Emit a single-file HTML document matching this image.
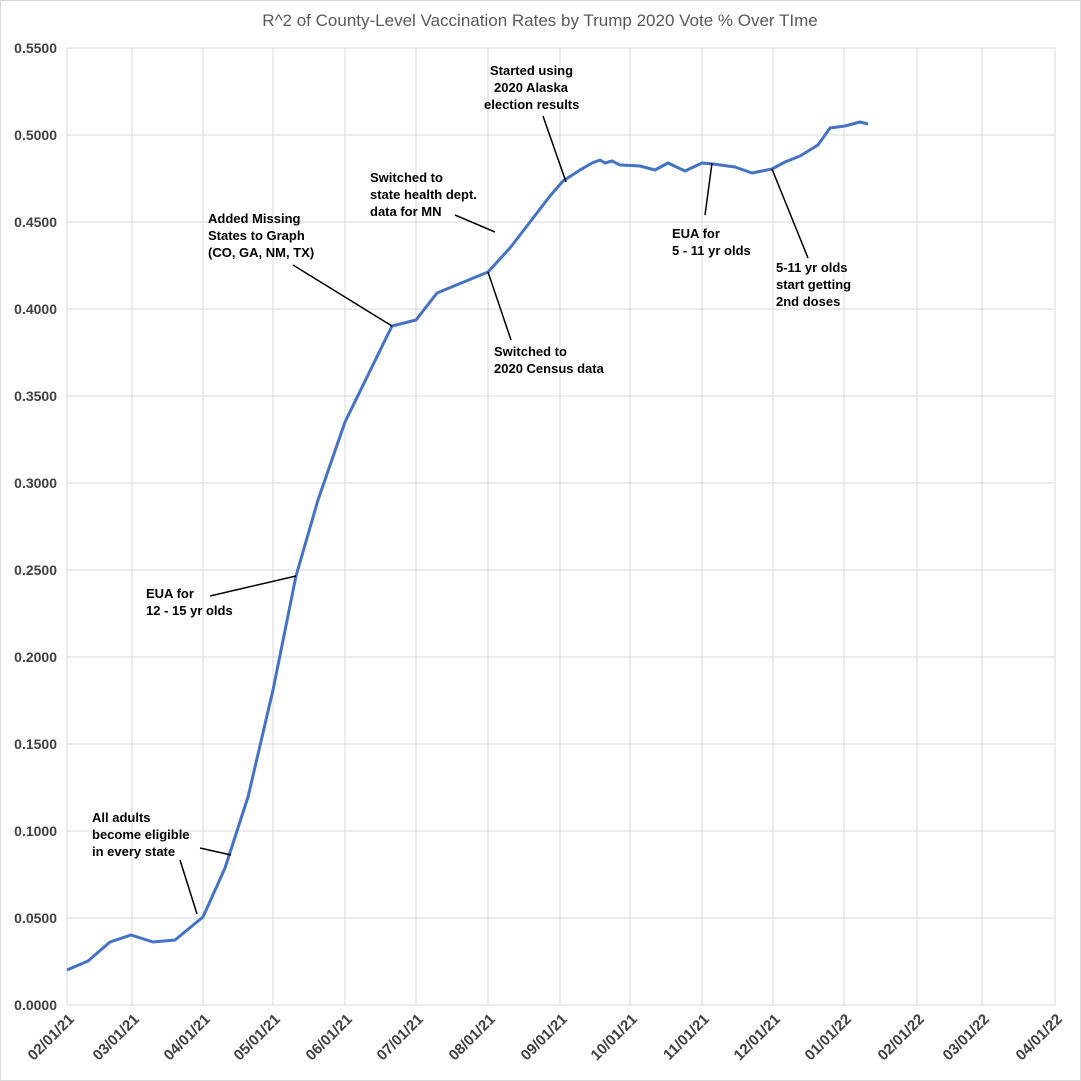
<!DOCTYPE html>
<html><head><meta charset="utf-8"><style>
body{margin:0;background:#fff}
svg{display:block}
text{font-family:"Liberation Sans",sans-serif}
.yl{font-size:14px;font-weight:bold;fill:#404040;text-anchor:end}
.xl{font-size:15px;font-weight:bold;fill:#404040;text-anchor:end}
.an{font-size:13px;font-weight:bold;fill:#000}
</style></head><body>
<svg width="1081" height="1081" viewBox="0 0 1081 1081">
<rect x="0.5" y="0.5" width="1080" height="1080" fill="#fff" stroke="#d9d9d9"/>
<text x="540" y="26" text-anchor="middle" font-size="17" fill="#595959">R^2 of County-Level Vaccination Rates by Trump 2020 Vote % Over TIme</text>
<g stroke="#d9d9d9" stroke-width="1">
<line x1="67" y1="48" x2="1055" y2="48"/><line x1="67" y1="135" x2="1055" y2="135"/><line x1="67" y1="222" x2="1055" y2="222"/><line x1="67" y1="309" x2="1055" y2="309"/><line x1="67" y1="396" x2="1055" y2="396"/><line x1="67" y1="483" x2="1055" y2="483"/><line x1="67" y1="570" x2="1055" y2="570"/><line x1="67" y1="657" x2="1055" y2="657"/><line x1="67" y1="744" x2="1055" y2="744"/><line x1="67" y1="831" x2="1055" y2="831"/><line x1="67" y1="918" x2="1055" y2="918"/><line x1="67" y1="1005" x2="1055" y2="1005"/>
<line x1="67" y1="48" x2="67" y2="1005"/><line x1="132" y1="48" x2="132" y2="1005"/><line x1="203" y1="48" x2="203" y2="1005"/><line x1="273" y1="48" x2="273" y2="1005"/><line x1="345" y1="48" x2="345" y2="1005"/><line x1="416" y1="48" x2="416" y2="1005"/><line x1="488" y1="48" x2="488" y2="1005"/><line x1="560" y1="48" x2="560" y2="1005"/><line x1="630" y1="48" x2="630" y2="1005"/><line x1="702" y1="48" x2="702" y2="1005"/><line x1="773" y1="48" x2="773" y2="1005"/><line x1="844" y1="48" x2="844" y2="1005"/><line x1="917" y1="48" x2="917" y2="1005"/><line x1="982" y1="48" x2="982" y2="1005"/><line x1="1055" y1="48" x2="1055" y2="1005"/>
</g>
<g class="yl">
<text x="57" y="53">0.5500</text><text x="57" y="140">0.5000</text><text x="57" y="227">0.4500</text><text x="57" y="314">0.4000</text><text x="57" y="401">0.3500</text><text x="57" y="488">0.3000</text><text x="57" y="575">0.2500</text><text x="57" y="662">0.2000</text><text x="57" y="749">0.1500</text><text x="57" y="836">0.1000</text><text x="57" y="923">0.0500</text><text x="57" y="1010">0.0000</text>
</g>
<g class="xl">
<text transform="translate(75,1020) rotate(-45)">02/01/21</text>
<text transform="translate(140,1020) rotate(-45)">03/01/21</text>
<text transform="translate(211,1020) rotate(-45)">04/01/21</text>
<text transform="translate(281,1020) rotate(-45)">05/01/21</text>
<text transform="translate(353,1020) rotate(-45)">06/01/21</text>
<text transform="translate(424,1020) rotate(-45)">07/01/21</text>
<text transform="translate(496,1020) rotate(-45)">08/01/21</text>
<text transform="translate(568,1020) rotate(-45)">09/01/21</text>
<text transform="translate(638,1020) rotate(-45)">10/01/21</text>
<text transform="translate(710,1020) rotate(-45)">11/01/21</text>
<text transform="translate(781,1020) rotate(-45)">12/01/21</text>
<text transform="translate(852,1020) rotate(-45)">01/01/22</text>
<text transform="translate(925,1020) rotate(-45)">02/01/22</text>
<text transform="translate(990,1020) rotate(-45)">03/01/22</text>
<text transform="translate(1063,1020) rotate(-45)">04/01/22</text>
</g>
<polyline fill="none" stroke="#4472c4" stroke-width="3" stroke-linejoin="round" points="67,970 88,961 110,942 131,935 153,942 175,940 203,917 225,868 248,797 273,690 296,576 318,500 345,422 368,375 392,326 416,320 437,293 488,272 510,248 530,222 550,196 563,181 580,170 592,163 600,160 605,163 612,161 620,165 640,166 655,170 668,163 685,171 702,163 713,164 735,167 752,173 772,169 785,162 800,156 818,145 830,128 845,126 860,122 868,124"/>
<g stroke="#000" stroke-width="1.5">
<line x1="180" y1="860" x2="197" y2="914"/>
<line x1="200" y1="848" x2="231" y2="855"/>
<line x1="210" y1="596" x2="296" y2="576"/>
<line x1="293" y1="265" x2="392" y2="326"/>
<line x1="455" y1="215" x2="495" y2="232"/>
<line x1="488" y1="272" x2="511" y2="340"/>
<line x1="543" y1="116" x2="566" y2="182"/>
<line x1="712" y1="163" x2="705" y2="215"/>
<line x1="772" y1="169" x2="808" y2="258"/>
</g>
<g class="an">
<text x="92" y="822">All adults</text><text x="92" y="839">become eligible</text><text x="92" y="856">in every state</text>
<text x="146" y="598">EUA for</text><text x="146" y="615">12 - 15 yr olds</text>
<text x="208" y="223">Added Missing</text><text x="208" y="240">States to Graph</text><text x="208" y="257">(CO, GA, NM, TX)</text>
<text x="370" y="182">Switched to</text><text x="370" y="199">state health dept.</text><text x="370" y="216">data for MN</text>
<text x="494" y="356">Switched to</text><text x="494" y="373">2020 Census data</text>
<text x="490" y="75">Started using</text><text x="494" y="92">2020 Alaska</text><text x="484" y="109">election results</text>
<text x="672" y="238">EUA for</text><text x="672" y="255">5 - 11 yr olds</text>
<text x="776" y="272">5-11 yr olds</text><text x="776" y="289">start getting</text><text x="776" y="306">2nd doses</text>
</g>
</svg>
</body></html>
